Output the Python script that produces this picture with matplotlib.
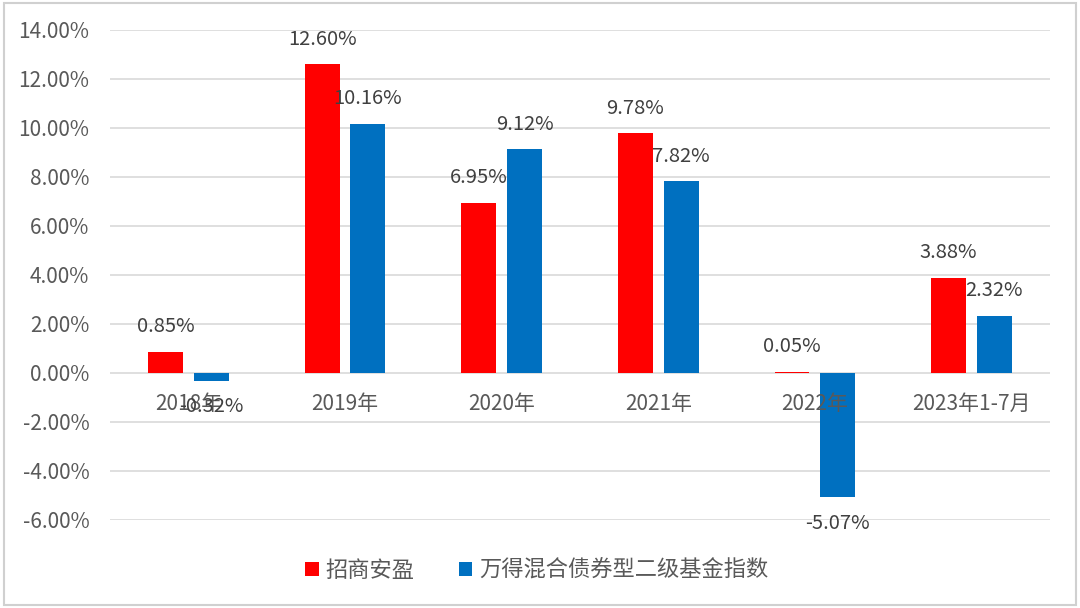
import matplotlib
matplotlib.use("Agg")
import matplotlib.pyplot as plt
from matplotlib.patches import Rectangle
import numpy as np

plt.rcParams['font.family'] = ['Noto Sans CJK SC', 'DejaVu Sans']

# data (percent)
categories = ['2018年', '2019年', '2020年', '2021年', '2022年', '2023年1-7月']
zhaoshang = [0.85, 12.60, 6.95, 9.78, 0.05, 3.88]
wande = [-0.32, 10.16, 9.12, 7.82, -5.07, 2.32]
series_names = ['招商安盈', '万得混合债券型二级基金指数']

red = '#FF0000'
blue = '#0070C0'
txt = '#595959'

fig = plt.figure(figsize=(10.8, 6.08), dpi=100)
ax = fig.add_axes([0.102, 0.145, 0.870, 0.806])

x = np.arange(len(categories))
w = 0.223
off = 0.146
b1 = ax.bar(x - off, zhaoshang, w, color=red, label=series_names[0], zorder=3)
b2 = ax.bar(x + off, wande, w, color=blue, label=series_names[1], zorder=3)

ax.set_xlim(-0.5, len(categories) - 0.5)
ax.set_ylim(-6, 14)
ax.set_yticks(np.arange(-6, 15, 2))
ax.set_yticklabels(['%.2f%%' % v for v in np.arange(-6, 15, 2)], fontsize=15, color=txt)
ax.tick_params(axis='y', length=0, pad=15)
ax.set_xticks([])
ax.grid(axis='y', color='#D9D9D9', linewidth=1.2, zorder=0)
for s in ax.spines.values():
    s.set_visible(False)

# value labels
for bars, vals in ((b1, zhaoshang), (b2, wande)):
    for r, v in zip(bars, vals):
        cx = r.get_x() + r.get_width() / 2
        dy = 25 if v >= 0 else -26
        ax.annotate('%.2f%%' % v, xy=(cx, v), xytext=(0, dy), textcoords='offset pixels',
                    ha='center', va='center', fontsize=14.5, color='#404040', zorder=5)

# category labels sitting just under the zero line
for i, c in enumerate(categories):
    ax.annotate(c, xy=(i, 0), xytext=(0, -31), textcoords='offset pixels',
                ha='center', va='center', fontsize=15, color=txt, zorder=4)

leg = ax.legend(loc='center', bbox_to_anchor=(0.497, 0.062), bbox_transform=fig.transFigure,
                ncol=2, frameon=False, fontsize=16, handlelength=0.6, handleheight=0.6,
                handletextpad=0.3, columnspacing=2.0)
for t in leg.get_texts():
    t.set_color(txt)

# outer chart border
fig.patches.append(Rectangle((0.004, 0.005), 0.992, 0.99, transform=fig.transFigure,
                             fill=False, edgecolor='#D0D0D0', linewidth=1.5))

fig.savefig('out.png', dpi=100)
